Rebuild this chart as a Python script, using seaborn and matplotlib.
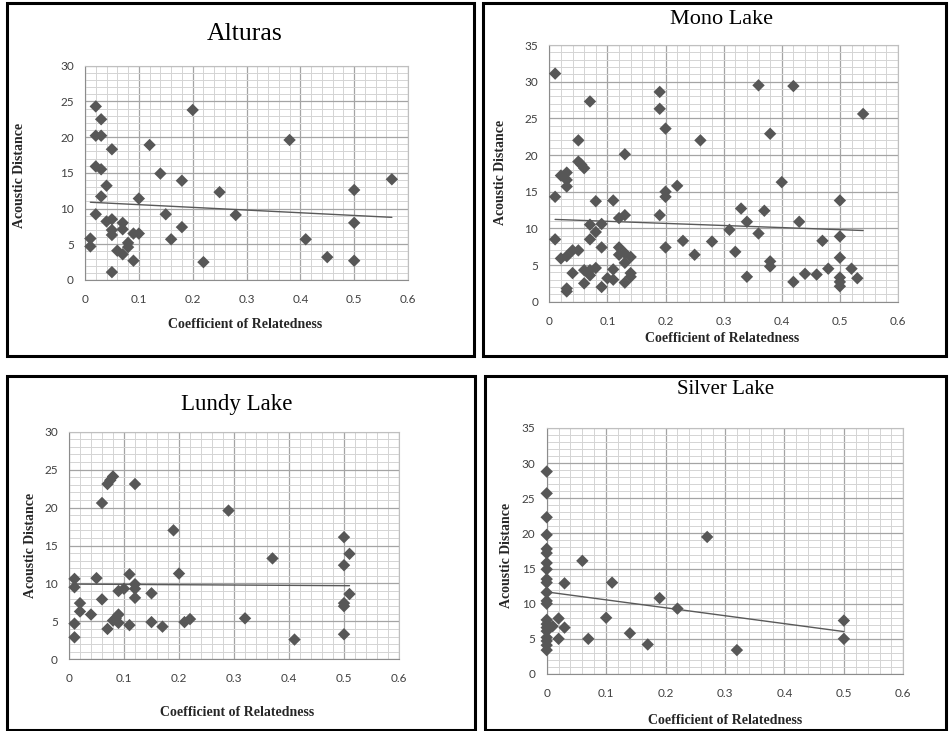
import matplotlib
matplotlib.use("Agg")
import matplotlib.pyplot as plt
import seaborn as sns
import pandas as pd
from matplotlib.patches import Rectangle
from matplotlib.ticker import MultipleLocator, FuncFormatter

# ---------------- data ----------------
alturas_x = [0.01, 0.01, 0.02, 0.02, 0.03, 0.03, 0.02, 0.03, 0.03, 0.02, 0.04, 0.05, 0.04, 0.05,
             0.05, 0.05, 0.05, 0.06, 0.07, 0.07, 0.07, 0.08, 0.08, 0.09, 0.09, 0.10, 0.10, 0.12,
             0.14, 0.15, 0.16, 0.18, 0.18, 0.20, 0.22, 0.25, 0.28, 0.38, 0.57, 0.50, 0.50, 0.41,
             0.45, 0.50]
alturas_y = [5.8, 4.7, 24.3, 20.2, 20.2, 22.5, 15.9, 15.5, 11.7, 9.2, 13.2, 18.3, 8.2, 8.5,
             7.0, 6.3, 1.1, 4.1, 8.0, 7.1, 3.6, 5.2, 4.6, 6.5, 2.7, 6.5, 11.4, 18.9,
             14.9, 9.2, 5.7, 13.9, 7.4, 23.8, 2.5, 12.3, 9.1, 19.6, 14.1, 12.6, 8.0, 5.7,
             3.2, 2.7]

mono_x = [0.01, 0.01, 0.01, 0.02, 0.02, 0.03, 0.03, 0.03, 0.03, 0.03, 0.03, 0.04, 0.04, 0.05,
          0.05, 0.05, 0.055, 0.06, 0.06, 0.06, 0.07, 0.07, 0.07, 0.07, 0.07, 0.08, 0.08, 0.08,
          0.09, 0.09, 0.09, 0.10, 0.11, 0.11, 0.11, 0.12, 0.13, 0.12, 0.12, 0.13, 0.13, 0.13,
          0.13, 0.14, 0.14, 0.14, 0.19, 0.19, 0.19, 0.20, 0.20, 0.20, 0.20, 0.22, 0.23, 0.25,
          0.26, 0.28, 0.31, 0.32, 0.33, 0.34, 0.34, 0.36, 0.36, 0.37, 0.38, 0.38, 0.38, 0.40,
          0.42, 0.42, 0.43, 0.44, 0.46, 0.47, 0.48, 0.50, 0.50, 0.50, 0.50, 0.50, 0.50, 0.52,
          0.53, 0.54]
mono_y = [31.1, 14.3, 8.5, 5.9, 17.2, 17.6, 16.6, 15.7, 1.8, 1.4, 6.2, 7.0, 3.9, 7.0,
          22.0, 19.1, 18.7, 18.2, 4.3, 2.5, 27.3, 10.5, 8.5, 4.3, 3.6, 13.7, 9.5, 4.6,
          10.6, 7.4, 2.0, 3.2, 13.8, 4.4, 3.0, 11.4, 11.8, 7.4, 6.4, 20.1, 6.6, 5.3,
          2.6, 6.1, 3.9, 3.4, 28.6, 26.3, 11.8, 23.6, 15.0, 14.3, 7.4, 15.8, 8.3, 6.4,
          22.0, 8.2, 9.8, 6.8, 12.7, 10.9, 3.4, 29.5, 9.3, 12.4, 22.9, 5.5, 4.8, 16.3,
          29.4, 2.7, 10.9, 3.8, 3.7, 8.3, 4.5, 13.8, 8.9, 6.0, 3.3, 2.7, 2.1, 4.5,
          3.2, 25.6]

lundy_x = [0.01, 0.01, 0.01, 0.01, 0.02, 0.02, 0.04, 0.05, 0.06, 0.06, 0.07, 0.075, 0.08, 0.07,
           0.08, 0.09, 0.085, 0.09, 0.09, 0.10, 0.11, 0.11, 0.12, 0.12, 0.12, 0.12, 0.15, 0.15,
           0.17, 0.19, 0.20, 0.21, 0.22, 0.29, 0.32, 0.37, 0.41, 0.50, 0.50, 0.51, 0.51, 0.50,
           0.50, 0.50]
lundy_y = [10.6, 9.5, 4.7, 2.9, 7.4, 6.3, 5.9, 10.7, 20.6, 7.9, 23.1, 23.6, 24.1, 4.0,
           5.1, 5.9, 5.4, 4.8, 9.0, 9.3, 11.2, 4.5, 23.1, 9.9, 9.3, 8.1, 8.7, 4.9,
           4.3, 17.0, 11.3, 4.9, 5.3, 19.6, 5.4, 13.3, 2.6, 16.1, 12.4, 13.9, 8.6, 7.4,
           7.0, 3.3]

silver_x = [0.0, 0.0, 0.0, 0.0, 0.0, 0.0, 0.0, 0.0, 0.0, 0.0, 0.0, 0.0, 0.0, 0.0,
            0.0, 0.0, 0.0, 0.0, 0.0, 0.0, 0.0, 0.01, 0.02, 0.02, 0.03, 0.03, 0.06, 0.07,
            0.10, 0.11, 0.14, 0.17, 0.19, 0.22, 0.27, 0.32, 0.50, 0.50]
silver_y = [28.8, 25.7, 22.3, 19.8, 17.8, 17.2, 15.8, 14.9, 13.5, 13.0, 11.6, 10.4, 10.0, 7.7,
            7.1, 6.6, 6.1, 5.2, 4.7, 4.1, 3.4, 6.8, 7.9, 5.0, 6.6, 12.9, 16.1, 5.0,
            8.0, 13.0, 5.8, 4.2, 10.8, 9.3, 19.5, 3.4, 7.6, 5.0]

titles = ["Alturas", "Mono Lake", "Lundy Lake", "Silver Lake"]
y_max = [30, 35, 30, 35]
x_label = "Coefficient of Relatedness"
y_label = "Acoustic Distance"

# ---------------- layout ----------------
W, H = 952, 731
fig = plt.figure(figsize=(W / 100, H / 100), dpi=100)
sns.set_style("white")
plt.rcParams['font.family'] = ['Lato', 'DejaVu Sans']

SERIF = ['Liberation Serif', 'DejaVu Serif']


def px_axes(l, t, r, b):
    return fig.add_axes([l / W, 1 - b / H, (r - l) / W, (b - t) / H])


def ftext(x, y, s, **kw):
    fig.text(x / W, 1 - y / H, s, ha='center', va='center', **kw)


# frames around each chart
frames = [(7, 3, 474, 356), (483, 3, 946, 356), (7, 376, 475, 730), (485, 376, 946, 730)]
for (l, t, r, b) in frames:
    fig.patches.append(Rectangle((l / W, 1 - b / H), (r - l) / W, (b - t) / H,
                                 transform=fig.transFigure, fill=False,
                                 edgecolor='black', linewidth=2.2))

panels = [
    dict(x=alturas_x, y=alturas_y, rect=(85, 65.7, 408, 280), title=(245, 34, 18.5),
         xl=(245, 325), yl=(20, 175)),
    dict(x=mono_x, y=mono_y, rect=(549.3, 45, 898, 301.7), title=(722, 19, 16),
         xl=(722, 338), yl=(500, 172)),
    dict(x=lundy_x, y=lundy_y, rect=(69, 431.7, 399, 659.3), title=(237, 404, 16.5),
         xl=(237, 713), yl=(30, 545)),
    dict(x=silver_x, y=silver_y, rect=(546.7, 428, 903.3, 674), title=(726, 390, 15),
         xl=(725, 720), yl=(507, 555)),
]

for i, p in enumerate(panels):
    ax = px_axes(*p['rect'])
    df = pd.DataFrame({'r': p['x'], 'd': p['y']})
    sns.regplot(data=df, x='r', y='d', ax=ax, scatter=False, ci=None, truncate=True,
                line_kws=dict(color='#595959', lw=1.0, zorder=2))
    sns.scatterplot(data=df, x='r', y='d', ax=ax, marker='D', s=40, color='#575757',
                    edgecolor='none', linewidth=0, zorder=3, clip_on=False)
    ax.set_xlim(0, 0.6)
    ax.set_ylim(0, y_max[i])
    ax.xaxis.set_major_locator(MultipleLocator(0.1))
    ax.xaxis.set_minor_locator(MultipleLocator(0.02))
    ax.yaxis.set_major_locator(MultipleLocator(5))
    ax.yaxis.set_minor_locator(MultipleLocator(1))
    ax.xaxis.set_major_formatter(FuncFormatter(lambda v, _: f"{v:.1f}".rstrip('0').rstrip('.') if v else "0"))
    ax.yaxis.set_major_formatter(FuncFormatter(lambda v, _: f"{v:.0f}"))
    ax.grid(which='major', color='#a4a4a4', lw=0.9)
    ax.grid(which='minor', color='#d4d4d4', lw=0.7)
    ax.set_axisbelow(True)
    for s in ax.spines.values():
        s.set_color('#bfbfbf')
        s.set_linewidth(0.8)
    ax.spines['left'].set_color('#8c8c8c')
    ax.spines['bottom'].set_color('#8c8c8c')
    ax.tick_params(which='major', length=3, width=0.7, color='#8c8c8c', labelsize=8.5,
                   labelcolor='#404040', direction='out')
    ax.tick_params(axis='x', pad=7)
    ax.tick_params(axis='y', pad=5)
    ax.tick_params(which='minor', length=0)
    ax.set_xlabel('')
    ax.set_ylabel('')
    tx, ty, ts = p['title']
    ftext(tx, ty, titles[i], fontsize=ts, family=SERIF, color='black')
    ftext(*p['xl'], x_label, fontsize=10, family=SERIF, weight='bold')
    ftext(*p['yl'], y_label, fontsize=10, family=SERIF, weight='bold', rotation=90)

fig.savefig("out.png", dpi=100)
